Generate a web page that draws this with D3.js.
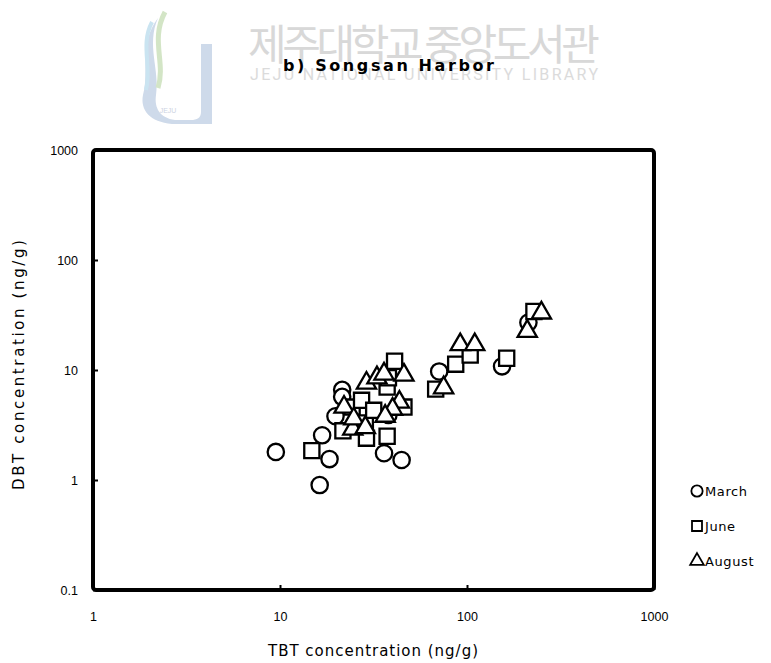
<!DOCTYPE html>
<html lang="en">
<head>
  <meta charset="UTF-8">
  <title>Songsan Harbor</title>
  <script src="https://d3js.org/d3.v7.min.js"></script>
  <style>
    body { margin: 0; background: #fff; }
    svg { display: block; font-family: "Liberation Sans", Arial, sans-serif; }
    .tick text { font-size: 12.5px; fill: #000; }
    .mark { fill: #fff; stroke: #000; stroke-width: 2.3px; }
    .wide { font-family: "DejaVu Sans", sans-serif; }
  </style>
</head>
<body>
<svg></svg>
<script>
  // TBT (x) and DBT (y) concentrations, ng/g
  const marchTBT  = [9.5, 16.3, 16.8, 18.4, 19.8, 21.5, 21.5, 36, 44.7, 38, 71, 154, 213];
  const marchDBT  = [1.8, 0.9, 2.55, 1.55, 3.8, 6.6, 5.7, 1.75, 1.52, 3.9, 9.7, 10.8, 27];
  const juneTBT   = [14.8, 21.7, 24.3, 27.3, 28.6, 29, 31.7, 37.4, 37.4, 38, 41, 46, 68, 87, 104, 163, 228];
  const juneDBT   = [1.85, 2.8, 4.6, 5.3, 3.3, 2.4, 4.3, 7.0, 2.5, 8.5, 12, 4.6, 6.7, 11.3, 13.7, 12.8, 34];
  const augustTBT = [22, 24.5, 24.8, 28.6, 29, 33, 36, 46, 43.5, 40, 36.5, 75, 92, 110, 210, 250];
  const augustDBT = [4.6, 2.9, 3.6, 3.0, 7.6, 8.5, 9.2, 9.0, 5.1, 4.4, 3.8, 6.9, 17, 17, 22.5, 33];

  const xTicks = [1, 10, 100, 1000];
  const yTicks = [0.1, 1, 10, 100, 1000];
  const legendNames = ["March", "June", "August"];

  const width = 771, height = 663;
  const svg = d3.select("svg").attr("width", width).attr("height", height);

  // library watermark
  const wm = svg.append("g").attr("opacity", 0.9);
  wm.append("path")
    .attr("d", "M158,18 C138,45 150,70 143,95 C140,110 150,122 172,124 L212,124 L212,44 L201,44 L201,112 C201,118 197,120 191,120 L175,120 C160,118 154,108 156,95 C160,70 146,45 158,18 Z")
    .attr("fill", "#c9d6e8");
  wm.append("path").attr("d", "M165,12 C150,40 166,62 158,88").attr("fill", "none").attr("stroke", "#cfe3c0").attr("stroke-width", 5);
  wm.append("path").attr("d", "M152,22 C140,45 152,66 146,90").attr("fill", "none").attr("stroke", "#c5e2f0").attr("stroke-width", 4);
  wm.append("text").attr("x", 168).attr("y", 113).attr("text-anchor", "middle")
    .attr("font-size", 7).attr("fill", "#c8cfe0").text("JEJU");
  wm.append("text").attr("x", 248).attr("y", 60).attr("textLength", 352)
    .attr("font-family", "Noto Sans CJK KR").attr("font-size", 42).attr("fill", "#d4d4d4")
    .text("제주대학교 중앙도서관");
  wm.append("text").attr("x", 250).attr("y", 80).attr("textLength", 348)
    .attr("font-family", "Liberation Sans Narrow, Roboto, sans-serif").attr("font-size", 16).attr("fill", "#d8d8d8")
    .text("JEJU NATIONAL UNIVERSITY LIBRARY");

  // cut-off label of the previous panel
  svg.append("text").attr("class", "wide").attr("x", 275).attr("y", -3)
    .attr("font-size", 15).attr("textLength", 210).text("TBT concentration (ng/g)");

  svg.append("text").attr("class", "wide").attr("x", 283).attr("y", 71)
    .attr("font-size", 16).attr("font-weight", "bold").attr("textLength", 211)
    .text("b) Songsan Harbor");

  const plotL = 93, plotR = 654, plotT = 150, plotB = 590;
  const x = d3.scaleLog().domain([1, 1000]).range([plotL, plotR]);
  const y = d3.scaleLog().domain([0.1, 1000]).range([plotB, plotT]);

  const fmt = d => (d < 1 ? "0.1" : String(d));

  const xAxis = svg.append("g").attr("transform", `translate(0,${plotB})`)
    .call(d3.axisBottom(x).tickValues(xTicks).tickFormat(fmt).tickSize(-5).tickPadding(22));
  const yAxis = svg.append("g").attr("transform", `translate(${plotL},0)`)
    .call(d3.axisLeft(y).tickValues(yTicks).tickFormat(fmt).tickSize(-5).tickPadding(15));
  [xAxis, yAxis].forEach(a => {
    a.select(".domain").remove();
    a.selectAll(".tick line").attr("stroke", "#000").attr("stroke-width", 2);
  });

  svg.append("rect")
    .attr("x", plotL).attr("y", plotT).attr("width", plotR - plotL).attr("height", plotB - plotT)
    .attr("rx", 3).attr("fill", "none").attr("stroke", "#000").attr("stroke-width", 4);

  svg.append("text").attr("class", "wide").attr("x", 268).attr("y", 656)
    .attr("font-size", 15).attr("textLength", 210).text("TBT concentration (ng/g)");
  svg.append("text").attr("class", "wide").attr("transform", "translate(24,490) rotate(-90)")
    .attr("font-size", 15).attr("textLength", 250).text("DBT concentration (ng/g)");

  const sym = [d3.symbolCircle, d3.symbolSquare, d3.symbolTriangle];
  const sizes = [210, 230, 160];
  const series = [
    d3.zip(marchTBT, marchDBT),
    d3.zip(juneTBT, juneDBT),
    d3.zip(augustTBT, augustDBT)
  ];

  series.forEach((pts, i) => {
    svg.append("g").selectAll("path").data(pts).join("path")
      .attr("class", "mark")
      .attr("d", d3.symbol(sym[i], sizes[i]))
      .attr("transform", d => `translate(${x(d[0])},${y(d[1])})`);
  });

  // legend
  const lg = svg.append("g").attr("transform", "translate(697,491)");
  legendNames.forEach((name, i) => {
    const row = lg.append("g").attr("transform", `translate(0,${i * 35})`);
    row.append("path").attr("d", d3.symbol(sym[i], i === 2 ? 80 : 100))
      .attr("fill", "none").attr("stroke", "#000").attr("stroke-width", 1.8);
    row.append("text").attr("class", "wide").attr("x", 8).attr("dy", "0.35em")
      .attr("font-size", 13).attr("letter-spacing", 0.6).text(name);
  });
</script>
</body>
</html>
